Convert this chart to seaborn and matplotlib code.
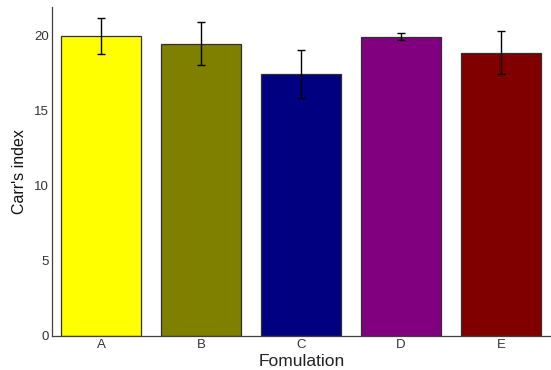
import matplotlib
matplotlib.use("Agg")
import matplotlib.pyplot as plt
import seaborn as sns
import pandas as pd

formulations = ["A", "B", "C", "D", "E"]
carr_index = [19.95, 19.47, 17.43, 19.93, 18.87]
carr_sd = [1.2, 1.42, 1.6, 0.22, 1.42]
bar_colors = ["#FFFF00", "#808000", "#000080", "#800080", "#800000"]

sns.set_theme(style="white")
plt.rcParams["font.family"] = ["Liberation Sans", "DejaVu Sans"]

df = pd.DataFrame({"Fomulation": formulations, "Carr's index": carr_index})

fig = plt.figure(figsize=(5.51, 3.70), dpi=100)
ax = fig.add_axes([0.0944, 0.092, 0.9056, 0.889])

sns.barplot(data=df, x="Fomulation", y="Carr's index", hue="Fomulation",
            palette=bar_colors, saturation=1, errorbar=None, width=0.8,
            legend=False, edgecolor="#303030", linewidth=0.9, ax=ax)

ax.errorbar(range(len(formulations)), carr_index, yerr=carr_sd, fmt="none",
            ecolor="black", elinewidth=1.0, capsize=3, capthick=1.0)

ax.set_xlim(-0.49, 4.5)
ax.set_ylim(0, 21.9)
ax.set_yticks([0, 5, 10, 15, 20])

for side in ["top", "right"]:
    ax.spines[side].set_visible(False)
for side in ["left", "bottom"]:
    ax.spines[side].set_color("#404040")
    ax.spines[side].set_linewidth(0.9)

ax.tick_params(axis="both", length=0, labelsize=9.5, colors="#333333", pad=2)
ax.set_xlabel("Fomulation", fontsize=12.5, color="#222222", labelpad=2)
ax.set_ylabel("Carr's index", fontsize=11.5, color="#111111", labelpad=5)

fig.savefig("out.png", dpi=100)
